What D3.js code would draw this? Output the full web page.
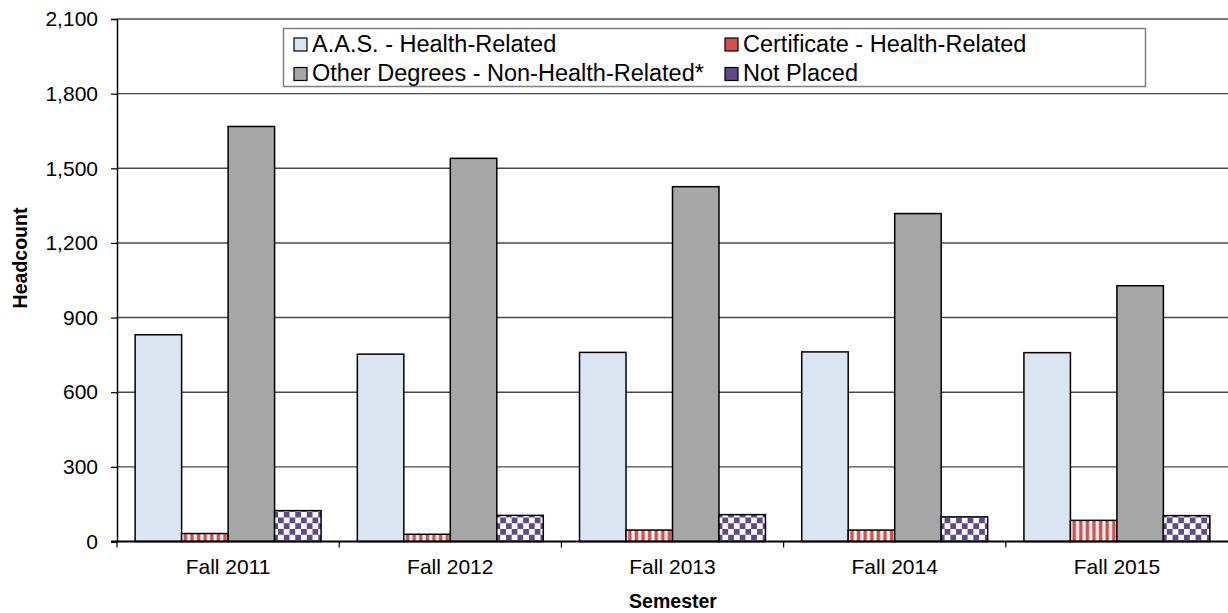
<!DOCTYPE html>
<html>
<head>
<meta charset="utf-8">
<script src="https://cdn.jsdelivr.net/npm/d3@7"></script>
<style>
  body { margin: 0; background: #fff; }
  text { font-family: "Liberation Sans", Arial, sans-serif; fill: #000; }
</style>
</head>
<body>
<div id="chart"></div>
<script>
// Data
let semesters = ["Fall 2011", "Fall 2012", "Fall 2013", "Fall 2014", "Fall 2015"];
let series_names = ["A.A.S. - Health-Related", "Certificate - Health-Related",
                    "Other Degrees - Non-Health-Related*", "Not Placed"];
let aas_values = [831, 753, 760, 762, 759];
let cert_values = [32, 29, 46, 46, 85];
let other_values = [1668, 1540, 1426, 1318, 1028];
let not_placed_values = [124, 105, 108, 99, 104];
let y_ticks = [0, 300, 600, 900, 1200, 1500, 1800, 2100];

let all_values = [aas_values, cert_values, other_values, not_placed_values];

let width = 1228, height = 613;
let margin = {left: 117, right: 0, top: 19, bottom: 72};

let svg = d3.select("#chart").append("svg")
    .attr("width", width)
    .attr("height", height);

// Fill patterns for the two hatched series.
let defs = svg.append("defs");
let stripes = defs.append("pattern")
    .attr("id", "stripes")
    .attr("patternUnits", "userSpaceOnUse")
    .attr("width", 6.6).attr("height", 10);
stripes.append("rect").attr("width", 6.6).attr("height", 10).attr("fill", "#fff");
stripes.append("rect").attr("x", 0.6).attr("width", 3.6).attr("height", 10).attr("fill", "#d4504c");

let checks = defs.append("pattern")
    .attr("id", "checks")
    .attr("patternUnits", "userSpaceOnUse")
    .attr("width", 11.5).attr("height", 11.5);
checks.append("rect").attr("width", 11.5).attr("height", 11.5).attr("fill", "#fff");
checks.append("rect").attr("width", 5.75).attr("height", 5.75).attr("fill", "#5e4a8a");
checks.append("rect").attr("x", 5.75).attr("y", 5.75).attr("width", 5.75).attr("height", 5.75).attr("fill", "#5e4a8a");

let fills = ["#dbe5f1", "url(#stripes)", "#a6a6a6", "url(#checks)"];
let swatch_fills = ["#dbe5f1", "#d4504c", "#a6a6a6", "#5e4a8a"];

let x0 = d3.scaleBand()
    .domain(semesters)
    .range([margin.left, width - margin.right])
    .padding(0);

let x1 = d3.scaleBand()
    .domain(d3.range(series_names.length))
    .range([0, x0.bandwidth()])
    .paddingInner(0)
    .paddingOuter(0.39);

let y = d3.scaleLinear()
    .domain([0, 2100])
    .range([height - margin.bottom + 0.5, margin.top]);

// Gridlines
svg.append("g")
    .selectAll("line")
    .data(y_ticks.slice(1))
    .enter().append("line")
    .attr("x1", margin.left).attr("x2", width)
    .attr("y1", d => y(d)).attr("y2", d => y(d))
    .attr("stroke", "#4a4a4a")
    .attr("stroke-width", 1.4);

// Bars
let groups = svg.append("g")
    .selectAll("g")
    .data(semesters)
    .enter().append("g")
    .attr("transform", d => "translate(" + x0(d) + ",0)");

groups.selectAll("rect")
    .data((d, i) => all_values.map((vals, s) => ({s: s, v: vals[i]})))
    .enter().append("rect")
    .attr("x", d => x1(d.s))
    .attr("width", x1.bandwidth())
    .attr("y", d => y(d.v))
    .attr("height", d => y(0) - y(d.v))
    .attr("fill", d => fills[d.s])
    .attr("stroke", "#000")
    .attr("stroke-width", 1.5);

// Y axis
let y_axis = svg.append("g")
    .attr("transform", "translate(" + margin.left + ",0)")
    .call(d3.axisLeft(y).tickValues(y_ticks).tickSize(6).tickPadding(13)
        .tickFormat(d3.format(",")));
y_axis.select(".domain").attr("stroke", "#000").attr("stroke-width", 1.5);
y_axis.selectAll(".tick line").attr("stroke", "#000").attr("stroke-width", 1.2);
y_axis.selectAll("text")
    .style("font-size", "21px")
    .attr("fill", "#000");

// X axis: baseline, boundary ticks, labels
let x_axis = svg.append("g")
    .attr("transform", "translate(0," + y(0) + ")");
x_axis.append("line")
    .attr("x1", margin.left - 6).attr("x2", width)
    .attr("stroke", "#000").attr("stroke-width", 2);
x_axis.selectAll(".bound")
    .data(semesters)
    .enter().append("line")
    .attr("class", "bound")
    .attr("x1", d => x0(d)).attr("x2", d => x0(d))
    .attr("y1", 0).attr("y2", 6)
    .attr("stroke", "#000").attr("stroke-width", 1.2);
x_axis.selectAll(".cat")
    .data(semesters)
    .enter().append("text")
    .attr("class", "cat")
    .attr("x", d => x0(d) + x0.bandwidth() / 2)
    .attr("y", 32)
    .attr("text-anchor", "middle")
    .style("font-size", "21px")
    .text(d => d);

// Axis titles
svg.append("text")
    .attr("transform", "translate(27,258) rotate(-90)")
    .attr("text-anchor", "middle")
    .style("font-size", "19.5px")
    .style("font-weight", "bold")
    .text("Headcount");

svg.append("text")
    .attr("x", 673)
    .attr("y", 608)
    .attr("text-anchor", "middle")
    .style("font-size", "19.5px")
    .style("font-weight", "bold")
    .text("Semester");

// Legend
let legend = svg.append("g");
legend.append("rect")
    .attr("x", 283.5).attr("y", 28.5)
    .attr("width", 862).attr("height", 58)
    .attr("fill", "#fff")
    .attr("stroke", "#7f7f7f")
    .attr("stroke-width", 1.5);

let legend_x = [294, 725];
let legend_y = [38, 67.5];
let items = legend.selectAll(".item")
    .data(series_names)
    .enter().append("g")
    .attr("class", "item")
    .attr("transform", (d, i) => "translate(" + legend_x[i % 2] + "," + legend_y[Math.floor(i / 2)] + ")");
items.append("rect")
    .attr("width", 13).attr("height", 13)
    .attr("fill", (d, i) => swatch_fills[i])
    .attr("stroke", "#000")
    .attr("stroke-width", 1.2);
items.append("text")
    .attr("x", 18)
    .attr("y", 13.5)
    .style("font-size", "23.5px")
    .text(d => d);
</script>
</body>
</html>
